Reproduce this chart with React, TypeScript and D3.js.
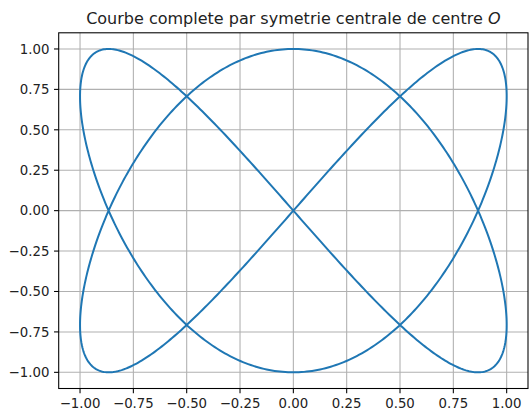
import React from "react";
import * as d3 from "d3";

// Curve: x = sin(2t), y = sin(3t), t in [0, 2π] (curve completed by central symmetry)
const xFrequency = 2;
const yFrequency = 3;
const sampleCount = 1000;
const xTicks = [-1.0, -0.75, -0.5, -0.25, 0.0, 0.25, 0.5, 0.75, 1.0];
const yTicks = [-1.0, -0.75, -0.5, -0.25, 0.0, 0.25, 0.5, 0.75, 1.0];
const title = "Courbe complete par symetrie centrale de centre ";

const W = 531;
const H = 408;
const M = { left: 58.7, right: 531 - 528, top: 32.8, bottom: 408 - 388.5 };

export default function App() {
  const ts = d3.range(sampleCount + 1).map((i) => (i / sampleCount) * 2 * Math.PI);
  const pts: [number, number][] = ts.map((t) => [Math.sin(xFrequency * t), Math.sin(yFrequency * t)]);
  const x = d3.scaleLinear().domain([-1.1, 1.1]).range([M.left, W - M.right]);
  const y = d3.scaleLinear().domain([-1.1, 1.1]).range([H - M.bottom, M.top]);
  const line = d3
    .line<[number, number]>()
    .x((d) => x(d[0]))
    .y((d) => y(d[1]));
  const font = "DejaVu Sans, sans-serif";
  const x0 = M.left, x1 = W - M.right, y0 = M.top, y1 = H - M.bottom;
  const tick = 4.67;
  return (
    <svg width={W} height={H} style={{ position: "absolute", left: 0, top: 0, background: "#fff" }}>
      <rect x={0} y={0} width={W} height={H} fill="#fff" />
      {xTicks.map((t) => (
        <line key={"gx" + t} x1={x(t)} x2={x(t)} y1={y0} y2={y1} stroke="#b0b0b0" strokeWidth={1.07} />
      ))}
      {yTicks.map((t) => (
        <line key={"gy" + t} x1={x0} x2={x1} y1={y(t)} y2={y(t)} stroke="#b0b0b0" strokeWidth={1.07} />
      ))}
      <path d={line(pts) || ""} fill="none" stroke="#1f77b4" strokeWidth={2} strokeLinejoin="round" />
      <rect x={x0} y={y0} width={x1 - x0} height={y1 - y0} fill="none" stroke="#000" strokeWidth={1.07} />
      {xTicks.map((t) => (
        <g key={"tx" + t}>
          <line x1={x(t)} x2={x(t)} y1={y1} y2={y1 + tick} stroke="#000" strokeWidth={1.07} />
          <text x={x(t)} y={y1 + 19} textAnchor="middle" fontFamily={font} fontSize={13.3} fill="#222">
            {d3.format(".2f")(t).replace("-", "\u2212")}
          </text>
        </g>
      ))}
      {yTicks.map((t) => (
        <g key={"ty" + t}>
          <line x1={x0 - tick} x2={x0} y1={y(t)} y2={y(t)} stroke="#000" strokeWidth={1.07} />
          <text x={x0 - 2 * tick} y={y(t) + 4.8} textAnchor="end" fontFamily={font} fontSize={13.3} fill="#222">
            {d3.format(".2f")(t).replace("-", "\u2212")}
          </text>
        </g>
      ))}
      <text x={(x0 + x1) / 2} y={y0 - 8.5} textAnchor="middle" fontFamily={font} fontSize={16} fill="#222">
        {title}
        <tspan fontStyle="italic">O</tspan>
      </text>
    </svg>
  );
}
